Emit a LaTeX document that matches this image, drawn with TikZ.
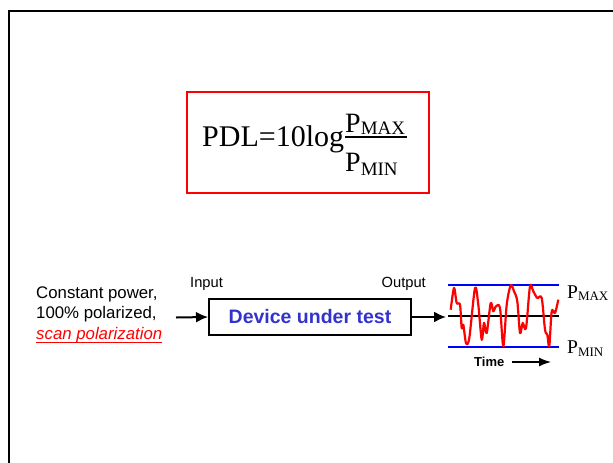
\documentclass[tikz,border=0pt]{standalone}
\usepackage{fontspec}
\setmainfont{Liberation Serif}
\newfontfamily\arialfont{Liberation Sans}
\usetikzlibrary{arrows.meta}
\definecolor{dutblue}{RGB}{51,51,204}
\tikzset{
  txt/.style={inner sep=0pt, anchor=base west},
  flowarrow/.style={line width=2pt, -{Latex[length=12pt,width=11pt]}},
  level/.style={line width=1.8pt, blue},
}
\begin{document}
\begin{tikzpicture}[x=1pt,y=-1pt]
\useasboundingbox (0,0) rectangle (613,463);
% frame
\draw[line width=2pt] (9,464) -- (9,11) -- (614,11);
% formula box
\node[draw=red, line width=1.5pt, minimum width=242pt, minimum height=101pt, inner sep=0pt] (fbox) at (308,142.5) {};
\node[txt] (pdl) at (202,146.7) {\fontsize{30}{30}\selectfont PDL=10log};
\node[txt] (num) at (345,132.3) {\fontsize{28}{28}\selectfont P\raisebox{-1.8pt}{\fontsize{19}{19}\selectfont MAX}};
\node[txt] (den) at (345,171) {\fontsize{28}{28}\selectfont P\raisebox{-4.7pt}{\fontsize{19}{19}\selectfont MIN}};
\coordinate (fracL) at (345,137);
\coordinate (fracR) at (407,137);
\draw[line width=1.3pt] (fracL) -- (fracR);
% left text
\node[txt] (l1) at (36,298) {\arialfont\fontsize{16.8}{16.8}\selectfont Constant power,};
\node[txt] (l2) at (36,318.5) {\arialfont\fontsize{16.8}{16.8}\selectfont 100\% polarized,};
\node[txt, text=red] (l3) at (36,339) {\arialfont\itshape\fontsize{16.8}{16.8}\selectfont scan polarization};
\draw[red, line width=1.3pt] ([yshift=-3.3pt]l3.base west) -- ([yshift=-3.3pt]l3.base east);
% device
\node[draw, line width=2pt, minimum width=202pt, minimum height=36pt, inner sep=0pt, text=dutblue, font=\arialfont\bfseries\fontsize{19.5}{19.5}\selectfont] (dut) at (310,317) {Device under test};
\node[txt] (inlab) at (190,287.7) {\arialfont\fontsize{14.7}{14.7}\selectfont Input};
\node[txt] (outlab) at (381.5,287.7) {\arialfont\fontsize{14.7}{14.7}\selectfont Output};
\coordinate (src) at (176,317.5);
\coordinate (sink) at (446,317);
\draw[flowarrow] (src) -- (dut.west);
\draw[flowarrow] (dut.east) -- (sink);
% signal panel
\coordinate (maxL) at (448,285); \coordinate (maxR) at (559,285);
\coordinate (minL) at (448,347); \coordinate (minR) at (559,347);
\coordinate (midL) at (448,316); \coordinate (midR) at (559,316);
\draw[level] (maxL) -- (maxR);
\draw[level] (minL) -- (minR);
\draw[line width=1.8pt] (midL) -- (midR);
\draw[red, line width=2.2pt, line join=round] plot[smooth, tension=0.5] coordinates {
 (450.7,309.7) (454,288) (456.7,303) (460,304.7) (461.7,328) (463.3,324.7)
 (466,343) (469.3,338) (475,288) (478.3,304.7) (481.7,339.7) (484,323)
 (486.7,333) (490.7,303) (493.3,311.3) (496,306.3) (500,308) (503.3,346.3)
 (506.7,304.7) (510.7,285.3) (514,291.3) (517.3,301.3) (520,333) (522.7,323)
 (526,328) (530,286.3) (533.3,291.3) (537.3,298) (541.7,298) (545,329.7)
 (547.3,334.7) (549.3,346.3) (551.7,311.3) (555,313) (558.3,299.7)};
\node[txt] (pmax) at (567,298) {\fontsize{19.5}{19.5}\selectfont P\raisebox{-2.5pt}{\fontsize{13}{13}\selectfont MAX}};
\node[txt] (pmin) at (567,353) {\fontsize{19.5}{19.5}\selectfont P\raisebox{-3pt}{\fontsize{13}{13}\selectfont MIN}};
% time
\node[txt] (time) at (474,366) {\arialfont\bfseries\fontsize{13}{13}\selectfont Time};
\coordinate (tA) at (512,362); \coordinate (tB) at (551,362);
\draw[line width=1.3pt, -{Latex[length=12pt,width=9pt]}] (tA) -- (tB);
\end{tikzpicture}
\end{document}
